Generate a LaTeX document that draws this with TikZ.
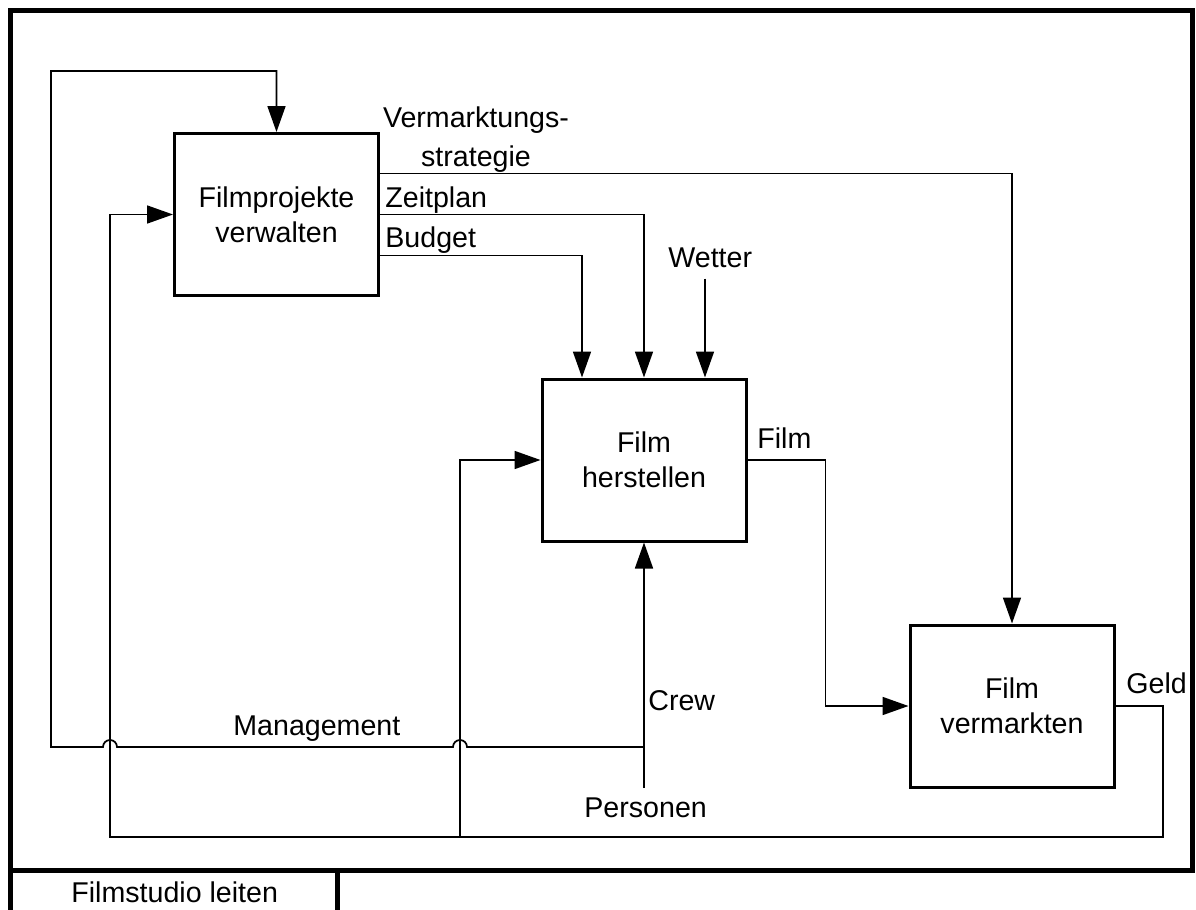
\documentclass[tikz,border=0pt]{standalone}
\usepackage{fontspec}
\setmainfont{Liberation Sans}
\usetikzlibrary{arrows.meta,calc}
\newcommand{\lblfont}{\fontsize{14.3}{17.5}\selectfont}
\begin{document}
\begin{tikzpicture}[x=0.5pt,y=-0.5pt,
  frame/.style={line width=2.5pt,line join=miter},
  box/.style={draw,line width=1.5pt,minimum width=102pt,minimum height=81pt,inner sep=0pt,align=center,font=\lblfont},
  conn/.style={line width=0.85pt},
  arr/.style={conn,-{Triangle[length=13pt,width=9pt]}},
  lbl/.style={inner sep=0pt,font=\lblfont}]
\useasboundingbox (0,0) rectangle (1196,910);
% frame
\draw[frame] (10.5,912) -- (10.5,10.5) -- (1192,10.5) -- (1192,870) -- (10.5,870);
\draw[frame] (337,870) -- (337,912);
\node[lbl,anchor=base west] (title) at (71,902) {Filmstudio leiten};
% boxes
\node[box] (b1) at (276.5,214.5) {Filmprojekte\\verwalten};
\node[box] (b2) at (644,460) {Film\\herstellen};
\node[box] (b3) at (1012,706) {Film\\vermarkten};
% coordinates
\coordinate (wet) at ($(b2.north)+(61,-99)$);
\coordinate (pers) at (644,788);
\coordinate (mj) at (644,747);
\coordinate (g1) at (1163,837);
\coordinate (g2) at (110,837);
\coordinate (g3) at (460,837);
\coordinate (m1) at (51,747);
\coordinate (m2) at (51,71);
% outputs of b1
\draw[arr] ($(b1.east)+(0,-41)$) -| (b3.north);
\draw[arr] (b1.east) -| (b2.north);
\draw[arr] ($(b1.east)+(0,41)$) -| ($(b2.north)+(-62,0)$);
\draw[arr] (wet) -- (wet |- b2.north);
% film
\draw[arr] (b2.east) -| ($(b3.west)+(-83,0)$) -- (b3.west);
% geld loop
\draw[arr] (b3.east) -| (g1) -- (g2) |- (b1.west);
\draw[arr] (g3) |- (b2.west);
% crew
\draw[arr] (pers) -- (b2.south);
% management with hops
\draw[arr] (mj) -- (467,747) arc[start angle=0,end angle=180,radius=3.5pt]
  -- (117,747) arc[start angle=0,end angle=180,radius=3.5pt]
  -- (m1) -- (m2) -| (b1.north);
% labels
\node[lbl,anchor=base,align=center] (lvm) at (476,166) {Vermarktungs-\\[2pt]strategie};
\node[lbl,anchor=base west] (lzp) at (385,207) {Zeitplan};
\node[lbl,anchor=base west] (lbu) at (385,247) {Budget};
\node[lbl,anchor=base west] (lwe) at (668,267) {Wetter};
\node[lbl,anchor=base west] (lfi) at (757,448) {Film};
\node[lbl,anchor=base west] (lge) at (1126,693) {Geld};
\node[lbl,anchor=base west] (lcr) at (648,710) {Crew};
\node[lbl,anchor=base west] (lpe) at (584,817) {Personen};
\node[lbl,anchor=base west] (lma) at (233,735) {Management};
\end{tikzpicture}
\end{document}
